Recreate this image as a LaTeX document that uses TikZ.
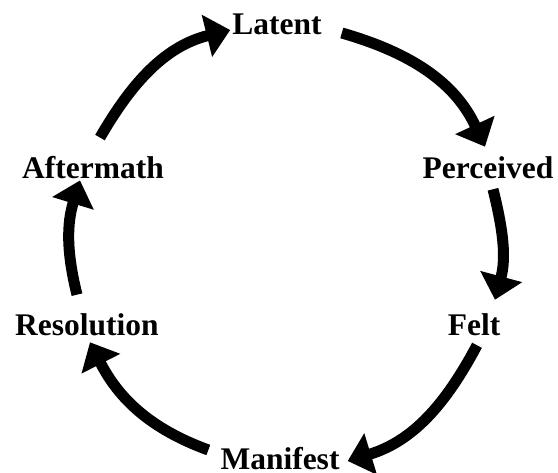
\documentclass[tikz,border=0pt]{standalone}
\usepackage{fontspec}
\setmainfont{Liberation Serif}
\usepackage{tikz}
\usetikzlibrary{positioning, arrows.meta, calc}

\begin{document}
\begin{tikzpicture}[
        x=1pt, y=1pt,
        >={Triangle[width=42pt, length=24pt]}, % Arrowhead style
        stage/.style={inner sep=0pt, font=\fontsize{31.5}{36}\selectfont\bfseries},
        flow/.style={->, line width=11pt}
    ]
    \useasboundingbox (0,0) rectangle (558,473);

    % ==========================================
    % Nodes Placement
    % ==========================================
    \node[stage] (latent) at (277, 449) {Latent};
    \node[stage] (perceived) at (488, 305) {Perceived};
    \node[stage] (felt) at (474, 148) {Felt};
    \node[stage] (manifest) at (280, 14) {Manifest};
    \node[stage] (resolution) at (87, 148) {Resolution};
    \node[stage] (aftermath) at (93, 305) {Aftermath};

    % ==========================================
    % Edges (Conflict Cycle)
    % ==========================================
    \draw[flow] ([shift={(20pt,-9pt)}]latent.east) to[out=-16, in=115] ([shift={(-3pt,10pt)}]perceived.north);
    \draw[flow] ([shift={(5pt,-10pt)}]perceived.south) to[out=-76, in=75] ([shift={(21pt,14pt)}]felt.north);
    \draw[flow] ([shift={(3pt,-9pt)}]felt.south) to[out=-118, in=17] ([shift={(8pt,-2pt)}]manifest.east);
    \draw[flow] ([shift={(-12pt,9pt)}]manifest.west) to[out=160, in=-63] ([shift={(3pt,-6pt)}]resolution.south);
    \draw[flow] ([shift={(-10pt,19pt)}]resolution.north) to[out=104, in=-107] ([shift={(-13pt,-1pt)}]aftermath.south);
    \draw[flow] ([shift={(7pt,19pt)}]aftermath.north) to[out=60, in=-166] ([shift={(-2pt,-6pt)}]latent.west);

    \end{tikzpicture}
\end{document}
